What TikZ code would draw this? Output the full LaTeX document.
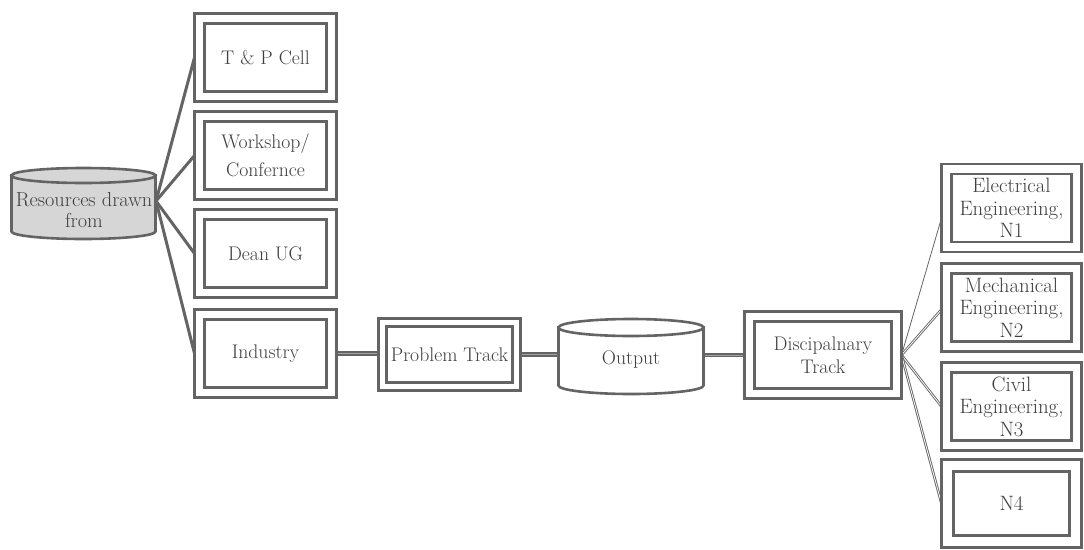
\documentclass[tikz,border=0pt]{standalone}
\usepackage{fontspec}
\usetikzlibrary{backgrounds}
\definecolor{ln}{RGB}{100,100,100}
\definecolor{txt}{RGB}{62,62,62}
\definecolor{resfill}{RGB}{214,214,214}
\newcommand\bodyfont{\fontsize{19.7}{22.5}\selectfont}
\newcommand\engfont{\fontsize{20.8}{22.5}\selectfont}
\tikzset{
  boxinset/.store in=\bxinset, boxinset=10pt,
  dbox/.style={draw=ln, line width=2.6pt, fill=white, inner sep=0pt, outer sep=0pt,
    align=center, text=txt, font=\bodyfont,
    path picture={\draw[ln, line width=2.6pt]
      ([xshift=\bxinset, yshift=\bxinset]path picture bounding box.south west) rectangle
      ([xshift=-\bxinset, yshift=-\bxinset]path picture bounding box.north east);}},
  leftcol/.style={dbox, minimum width=142pt, minimum height=88pt},
  rightcol/.style={dbox, minimum width=140pt, minimum height=88pt, font=\engfont},
  cyl/.style={draw=ln, line width=2.6pt},
  cyltext/.style={text=txt, font=\bodyfont, align=center, inner sep=0pt},
  lfan/.style={draw=ln, line width=3pt},
  hlink/.style={draw=ln, line width=1.7pt, double=ln!60, double distance=0.9pt},
  rfan/.style={draw=ln, line width=0.9pt, double=white, double distance=0.8pt},
  rthin/.style={draw=ln, line width=0.8pt},
}
\begin{document}
\begin{tikzpicture}[x=1pt, y=-1pt]
\useasboundingbox (0,0) rectangle (1084,549);
\clip (0,0) rectangle (1084,549);

% source cylinder
\draw[cyl, fill=resfill] (11.5,175.5) -- (11.5,231.5)
  arc[start angle=180, end angle=0, x radius=72, y radius=7.5] -- (155.5,175.5) -- cycle;
\draw[cyl, fill=resfill] (83.5,175.5) ellipse [x radius=72, y radius=7.5];
\node[cyltext, font={\fontsize{20.3}{20.5}\selectfont}] (res) at (84,210) {Resources drawn\\from};
\coordinate (resR) at (156,201);

% output cylinder
\draw[cyl, fill=white] (558.5,327.5) -- (558.5,385.5)
  arc[start angle=180, end angle=0, x radius=72.5, y radius=8.5] -- (703.5,327.5) -- cycle;
\draw[cyl, fill=white] (631,327.5) ellipse [x radius=72.5, y radius=8.5];
\node[cyltext] (out) at (631,360) {Output};
\coordinate (outL) at (558.5,354.5);
\coordinate (outR) at (703.5,355);

% left column
\node[leftcol] (tp)   at (265.5,57.5)  {T \& P Cell};
\node[leftcol] (ws)   at (265.5,155.5) {Workshop/\\[6pt]Confernce};
\node[leftcol] (dean) at (265.5,253.5) {Dean UG};
\node[leftcol] (ind)  at (265.5,353.5) {Industry};

% middle chain
\node[dbox, boxinset=8pt, minimum width=142pt, minimum height=72pt] (pt) at (449.5,354.5) {Problem Track};
\node[dbox, minimum width=157pt, minimum height=87pt] (disc) at (823,355) {Discipalnary\\Track};

% right column
\node[rightcol] (e1) at (1011.5,208)   {Electrical\\Engineering,\\N1};
\node[rightcol] (e2) at (1011.5,307.5) {Mechanical\\Engineering,\\N2};
\node[rightcol] (e3) at (1011.5,406.5) {Civil\\Engineering,\\N3};
\node[rightcol, boxinset=12pt] (e4) at (1011.5,503.5) {N4};

% connectors, kept behind the boxes
\begin{scope}[on background layer]
  \foreach \t in {tp,ws,dean,ind} \draw[lfan] (resR) -- (\t.west);
  \draw[hlink] (ind.east) -- (ind.east -| pt.west);
  \draw[hlink] (pt.east) -- (outL);
  \draw[hlink] (outR) -- (disc.west);
  \draw[rthin] (disc.east) -- ([yshift=-10pt]e1.west);
  \draw[rfan] (disc.east) -- ([yshift=-2pt]e2.west);
  \draw[rfan] (disc.east) -- (e3.west);
  \draw[rfan] (disc.east) -- (e4.west);
\end{scope}
\end{tikzpicture}
\end{document}
